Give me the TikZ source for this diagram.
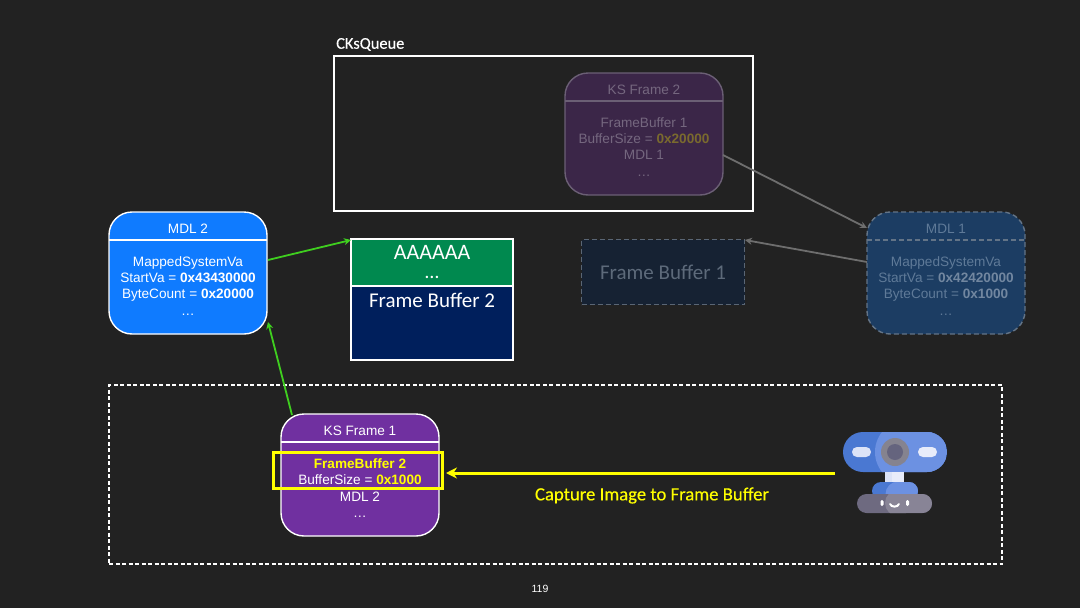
\documentclass[tikz,border=0pt]{standalone}
\usepackage{fontspec}
\usetikzlibrary{arrows.meta}
\setmainfont{Liberation Sans}
\newfontfamily\calfont{Carlito}
\newfontfamily\calmed[FakeBold=0.3]{Carlito}
\definecolor{bg}{HTML}{222222}
\definecolor{ksdimfill}{HTML}{3B2648}
\definecolor{ksdimline}{HTML}{6B5F75}
\definecolor{ksdimtext}{HTML}{75677F}
\definecolor{ksdimval}{HTML}{7A6A2E}
\definecolor{mdldimfill}{HTML}{1C3D63}
\definecolor{mdldimline}{HTML}{637487}
\definecolor{mdldimtext}{HTML}{5F7A98}
\definecolor{mdldimbold}{HTML}{7287A0}
\definecolor{fbdimfill}{HTML}{162233}
\definecolor{fbdimline}{HTML}{5A6675}
\definecolor{fbdimtext}{HTML}{5D6A7A}
\definecolor{graylink}{HTML}{6E6E6E}
\definecolor{mdlblue}{HTML}{0F7BFF}
\definecolor{fbgreen}{HTML}{00894F}
\definecolor{fbnavy}{HTML}{001F5C}
\definecolor{kspurple}{HTML}{7030A0}
\definecolor{linkgreen}{HTML}{3FCF1F}
\definecolor{yel}{HTML}{FFFF00}
\definecolor{camdark}{HTML}{4A78D2}
\definecolor{camlight}{HTML}{6C91E2}
\definecolor{campill}{HTML}{DCE3F7}
\definecolor{campillb}{HTML}{E8ECFA}
\definecolor{camgray}{HTML}{6E6A80}
\definecolor{camgraylight}{HTML}{888496}
\definecolor{camlens}{HTML}{85838F}
\definecolor{camlensin}{HTML}{65647E}
\begin{document}
\begin{tikzpicture}[x=1pt,y=-1pt,
  card/.style={line width=1.4pt,rounded corners=23pt,minimum width=158pt,minimum height=122pt,inner sep=0pt,outer sep=0pt,anchor=north west},
  rct/.style={inner sep=0pt,outer sep=0pt,anchor=north west},
  lbl/.style={font=\fontsize{13.6}{16.4}\selectfont,align=center,inner sep=0pt,text=#1},
  cb/.style={font=\calfont\fontsize{#1}{#1}\selectfont,inner sep=0pt},
  lnk/.style={draw=#1,line width=1.8pt,-{Stealth[length=7pt,width=7pt]}},
  dashbox/.style={dash pattern=on 5pt off 3pt}]
\fill[bg] (0,0) rectangle (1080,608);
\useasboundingbox (0,0) rectangle (1080,608);
% queue
\node[rct,draw=white,line width=1.6pt,minimum width=419pt,minimum height=155pt] (queue) at (334,56) {};
\node[anchor=west,text=white,inner sep=0pt,font=\calmed\fontsize{16.4}{17}\selectfont] (qlabel) at (336,44.5) {CKsQueue};
% KS frame 2 (dimmed)
\node[card,draw=ksdimline,fill=ksdimfill] (ks2) at (565,73) {};
\draw[ksdimline,line width=1.4pt] (565,101) -- (723,101);
\node[lbl=ksdimtext] (ks2t) at (644,90) {KS Frame 2};
\node[lbl=ksdimtext,anchor=north] (ks2b) at (644,117) {FrameBuffer 1\\BufferSize = \textcolor{ksdimval}{\bfseries 0x20000}\\MDL 1\\…};
% MDL 1 (dimmed)
\node[card,draw=mdldimline,fill=mdldimfill,dashbox] (mdl1) at (867,212) {};
\draw[mdldimline,line width=1.4pt,dashbox] (867,240) -- (1025,240);
\node[lbl=mdldimtext] (mdl1t) at (946,228.5) {MDL 1};
\node[lbl=mdldimtext,anchor=north] (mdl1b) at (946,256) {MappedSystemVa\\StartVa = \textcolor{mdldimbold}{\bfseries 0x42420000}\\ByteCount = \textcolor{mdldimbold}{\bfseries 0x1000}\\…};
% Frame buffer 1 (dimmed)
\node[rct,draw=fbdimline,fill=fbdimfill,line width=1.4pt,dashbox,minimum width=163pt,minimum height=65pt] (fb1) at (581.5,239.5) {};
\node[cb=21,text=fbdimtext] (fb1t) at (663,272) {Frame Buffer 1};
% gray links
\coordinate (ks2out) at (723,155);
\coordinate (mdl1in) at (867,228);
\coordinate (mdl1out) at (867,262);
\coordinate (fb1in) at (745,240);
\draw[lnk=graylink] (ks2out) -- (mdl1in);
\draw[lnk=graylink] (mdl1out) -- (fb1in);
% MDL 2
\node[card,draw=white,fill=mdlblue] (mdl2) at (109,212) {};
\draw[white,line width=1.4pt] (109,240) -- (267,240);
\node[lbl=white] (mdl2t) at (188,228.5) {MDL 2};
\node[lbl=white,anchor=north] (mdl2b) at (188,256) {MappedSystemVa\\StartVa = {\bfseries 0x43430000}\\ByteCount = {\bfseries 0x20000}\\…};
% Frame buffer 2
\node[rct,fill=fbnavy,minimum width=162pt,minimum height=121pt] (fb2) at (351,239) {};
\node[rct,fill=fbgreen,minimum width=162pt,minimum height=47pt] (fb2top) at (351,239) {};
\draw[white,line width=1.4pt] (fb2top.south west) -- (fb2top.south east);
\draw[white,line width=1.6pt] (fb2.north west) rectangle (fb2.south east);
\node[cb=22,text=white] (fb2a) at (432,252) {AAAAAA};
\node[cb=20,text=white] (fb2d) at (432,277) {…};
\node[cb=21,text=white] (fb2t) at (432,300) {Frame Buffer 2};
% outer dashed
\node[rct,draw=white,line width=1.5pt,dash pattern=on 4pt off 2.5pt,minimum width=893pt,minimum height=179pt] (cap) at (109,385) {};
% KS Frame 1
\node[card,draw=white,fill=kspurple] (ks1) at (281,414) {};
\draw[white,line width=1.4pt] (281,442) -- (439,442);
\node[lbl=white] (ks1t) at (360,431) {KS Frame 1};
\node[lbl=white,anchor=north] (ks1b) at (360,458.5) {\textcolor{yel}{\bfseries FrameBuffer 2}\\BufferSize = \textcolor{yel}{\bfseries 0x1000}\\MDL 2\\…};
\node[rct,draw=yel,line width=3pt,minimum width=169pt,minimum height=36pt] (hl) at (273.5,452.5) {};
% green links
\coordinate (mdl2out) at (268,260);
\coordinate (fb2in) at (351,240);
\coordinate (ks1out) at (292,415);
\coordinate (mdl2in) at (268,322);
\draw[lnk=linkgreen] (mdl2out) -- (fb2in);
\draw[lnk=linkgreen] (ks1out) -- (mdl2in);
% webcam
\fill[camdark,rounded corners=20pt] (843,432) rectangle (947,472);
\begin{scope}
\clip[rounded corners=20pt] (843,432) rectangle (947,472);
\fill[camlight] (907,452) circle[radius=32pt];
\fill[camlight] (907,432) rectangle (947,472);
\end{scope}
\fill[camlens] (895,452) circle[radius=14pt];
\fill[camlensin] (895,452) circle[radius=8pt];
\fill[campill,rounded corners=4.9pt] (852,447) rectangle (871,457);
\fill[campillb,rounded corners=4.9pt] (918,447) rectangle (937,457);
\fill[campill] (885,472) rectangle (892,482);
\fill[campillb] (892,472) rectangle (904,482);
\fill[camdark,rounded corners=9pt] (872,500) -- (872,482) -- (918,482) -- (918,500) -- cycle;
\begin{scope}
\clip[rounded corners=9pt] (872,500) -- (872,482) -- (918,482) -- (918,500) -- cycle;
\fill[camlight] (898,494) circle[radius=12.5pt];
\fill[camlight] (898,482) rectangle (918,500);
\end{scope}
\fill[camgray,rounded corners=9.5pt] (857,494) rectangle (932,513);
\begin{scope}
\clip[rounded corners=9.5pt] (857,494) rectangle (932,513);
\fill[camgraylight] (898,503) circle[radius=13pt];
\fill[camgraylight] (898,494) rectangle (932,513);
\end{scope}
\fill[white,rounded corners=1.4pt] (880.5,500) rectangle (883.5,506);
\fill[white,rounded corners=1.4pt] (906,500) rectangle (909,506);
\draw[white,line width=2pt,line cap=round] (890,504) .. controls (891.5,507.5) and (897.5,507.5) .. (899,504);
\coordinate (camcap) at (835,473);
\coordinate (hlin) at (446,473);
\draw[yel,line width=3pt,-{Stealth[length=11pt,width=11pt]}] (camcap) -- (hlin);
\node[inner sep=0pt,text=yel,font=\calmed\fontsize{18.7}{19}\selectfont] (capt) at (652,495.5) {Capture Image to Frame Buffer};
\node[inner sep=0pt,text=white,font=\fontsize{10.5}{11}\selectfont] (pg) at (540,588.5) {119};
\end{tikzpicture}
\end{document}
